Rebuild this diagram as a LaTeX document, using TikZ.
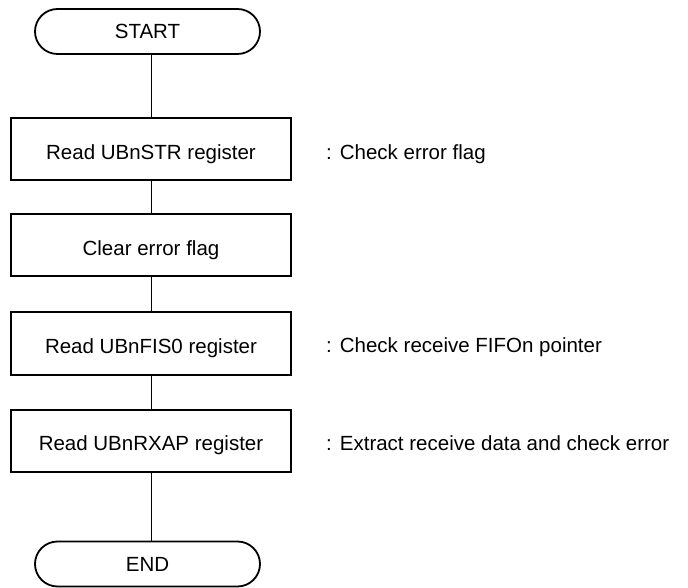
\documentclass[tikz,border=0pt]{standalone}
\usepackage{fontspec}
\setmainfont{Liberation Sans}
\begin{document}
\begin{tikzpicture}[x=1pt,y=1pt,
  every node/.style={font=\fontsize{20.5}{24}\selectfont},
  stepbox/.style={draw, line width=2pt, minimum width=280pt, minimum height=62pt, inner sep=0pt, text height=19.5pt, text depth=0pt},
  termbox/.style={draw, line width=1.8pt, minimum width=225pt, minimum height=45pt, rounded corners=22.5pt, inner sep=0pt, text height=14.7pt, text depth=0pt},
  note/.style={anchor=base west, inner sep=0pt},
  link/.style={line width=0.8pt}]
\useasboundingbox (0,0) rectangle (688,587);
\node[termbox] (start) at (147.5,555.5) {START};
\node[stepbox] (b1) at (151,437.5) {Read UBnSTR register};
\node[stepbox] (b2) at (151,341.5) {Clear error flag};
\node[stepbox] (b3) at (151,243.5) {Read UBnFIS0 register};
\node[stepbox] (b4) at (151,146) {Read UBnRXAP register};
\node[termbox] (end) at (147.5,23) {END};
\node[note] (n1) at (326,427.7) {:\hspace{8pt}Check error flag};
\node[note] (n3) at (326,234.7) {:\hspace{8pt}Check receive FIFOn pointer};
\node[note] (n4) at (326,136.7) {:\hspace{8pt}Extract receive data and check error};
\draw[link] (b1.north) -- (b1.north |- start.south);
\draw[link] (b1) -- (b2);
\draw[link] (b2) -- (b3);
\draw[link] (b3) -- (b4);
\draw[link] (b4.south) -- (b4.south |- end.north);
\end{tikzpicture}
\end{document}
